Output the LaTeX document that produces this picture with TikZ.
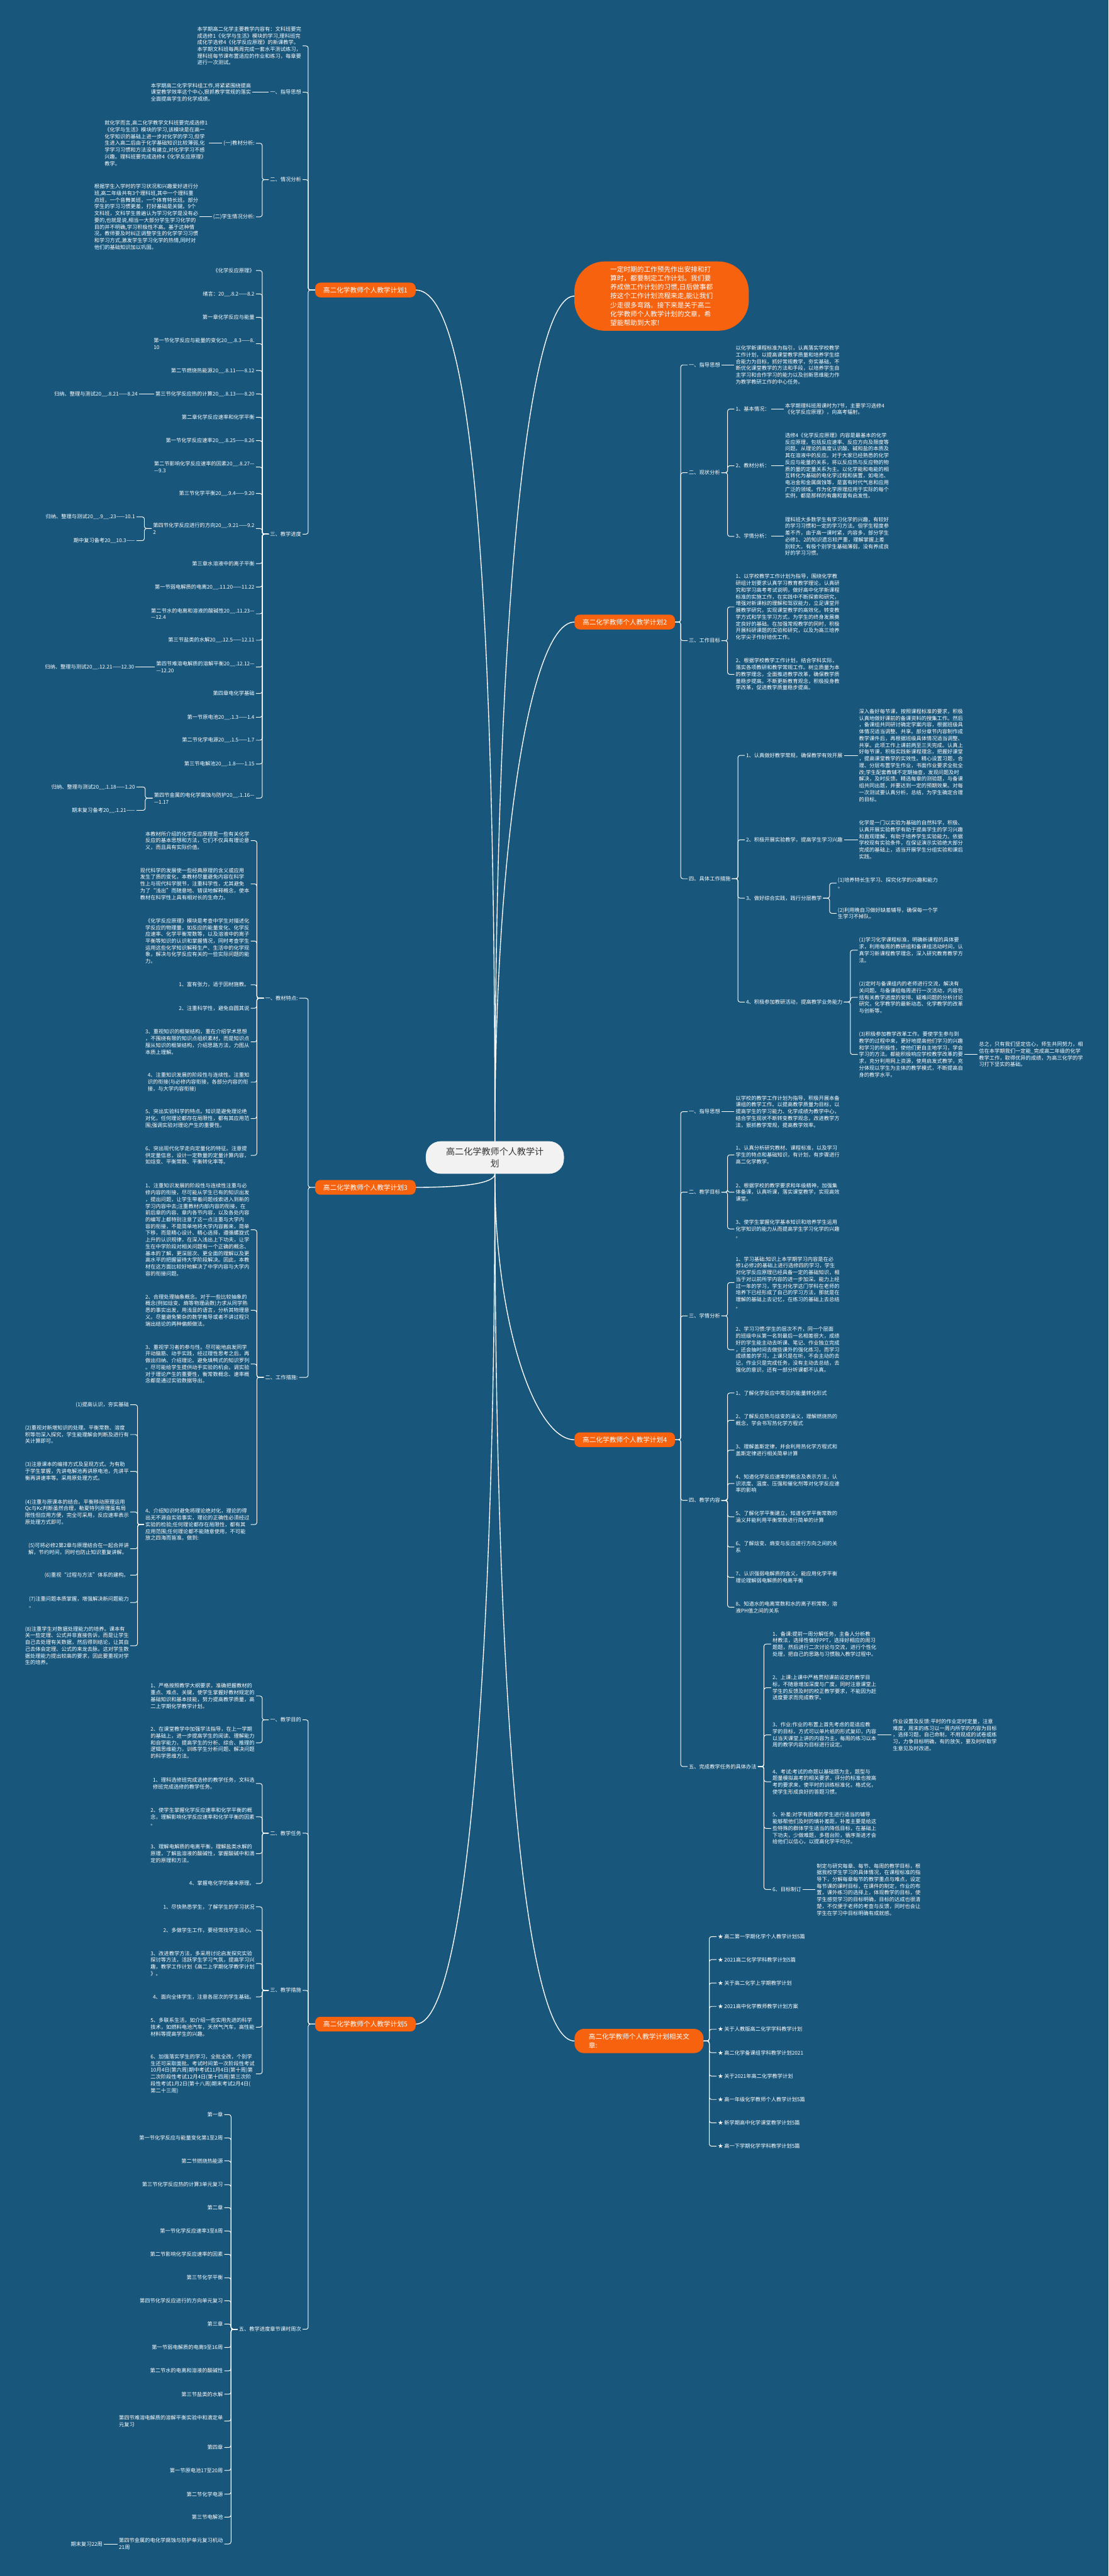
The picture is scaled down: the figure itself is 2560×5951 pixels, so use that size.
\documentclass[tikz,border=0pt]{standalone}
\usepackage{fontspec}
\setmainfont{Noto Sans CJK SC}
\definecolor{mapbg}{HTML}{18567B}
\definecolor{maporange}{HTML}{F7620F}
\definecolor{maproot}{HTML}{F2F2F2}
\definecolor{maptext}{HTML}{333333}

\begin{document}
\begin{tikzpicture}[
    x=1pt, y=-1pt,
    every node/.style={font=\fontsize{12}{15.6}\selectfont, text=white, inner xsep=3pt, inner ysep=1pt},
    leafl/.style={anchor=east, align=left},
    leafr/.style={anchor=west, align=left},
    branch/.style={
        fill=maporange,
        rounded corners=12pt,
        minimum width=232pt,
        minimum height=34pt,
        align=left,
        font=\fontsize{15.5}{20}\selectfont
    },
    rootnode/.style={
        fill=maproot,
        text=maptext,
        rounded corners=34pt,
        minimum width=319pt,
        minimum height=75pt,
        align=center,
        font=\fontsize{20.5}{27}\selectfont
    },
    introbox/.style={
        fill=maporange,
        rounded corners=70pt,
        minimum width=403pt,
        minimum height=160pt,
        align=left,
        font=\fontsize{15.5}{20.7}\selectfont
    },
    link/.style={draw=white, line width=1.4pt, rounded corners=5pt},
    bough/.style={draw=white, line width=2pt}
]

\useasboundingbox (0,0) rectangle (2560,5951);
\fill[mapbg] (0,0) rectangle (2560,5951);

%------------------------------------------------
% Root and main branches
%------------------------------------------------
\node[rootnode] (root) at (1143,2674) {高二化学教师个人教学计\\划};

\node[branch] (a) at (844,670)  {高二化学教师个人教学计划1};
\node[branch] (c) at (844,2743) {高二化学教师个人教学计划3};
\node[branch] (e) at (844,4676) {高二化学教师个人教学计划5};

\node[introbox] (intro) at (1528,684) {一定时期的工作预先作出安排和打\\算时，都要制定工作计划。我们要\\养成做工作计划的习惯,日后做事都\\按这个工作计划流程来走,能让我们\\少走很多弯路。接下来是关于高二\\化学教师个人教学计划的文章，希\\望能帮助到大家!};
\node[branch] (b) at (1443,1437) {高二化学教师个人教学计划2};
\node[branch] (d) at (1443,3326) {高二化学教师个人教学计划4};
\node[branch, minimum width=298pt, minimum height=56pt, rounded corners=22pt] (f) at (1476,4715) {高二化学教师个人教学计划相关文\\章:};

\draw[bough] (root.north) .. controls +(0,-1300) and +(130,0) .. (a.east);
\draw[bough] (root.north) .. controls +(0,-1300) and +(-100,0) .. (intro.west);
\draw[bough] (root.north) .. controls +(0,-700) and +(-100,0) .. (b.west);
\draw[bough] (root.south) .. controls +(0,25) and +(90,0) .. (c.east);
\draw[bough] (root.south) .. controls +(0,350) and +(-90,0) .. (d.west);
\draw[bough] (root.south) .. controls +(0,1100) and +(120,0) .. (e.east);
\draw[bough] (root.south) .. controls +(0,1300) and +(-110,0) .. (f.west);

%------------------------------------------------
% Plan 1
%------------------------------------------------
\node[leafl] (a0)  at (699,106) {本学期高二化学主要教学内容有：文科班要完\\成选修1《化学与生活》模块的学习,理科班完\\成化学选修4《化学反应原理》的新课教学。\\本学期文科班每两周完成一套水平测试练习，\\理科班每节课布置适应的作业和练习，每章要\\进行一次测试。};
\node[leafl] (a1)  at (699,213) {一、指导思想};
\node[leafl] (a1p) at (583,213) {本学期高二化学学科组工作,将紧紧围绕提高\\课堂教学效率这个中心,狠抓教学常规的落实\\全面提高学生的化学成绩。};
\node[leafl] (a2)  at (699,415) {二、情况分析};
\node[leafl] (a21) at (591,331) {(一)教材分析:};
\node[leafl] (a21p) at (483,331) {就化学而言,高二化学教学文科班要完成选修1\\《化学与生活》模块的学习,该模块是在高一\\化学知识的基础上进一步对化学的学习,但学\\生进入高二后由于化学基础知识比较薄弱,化\\学学习习惯和方法没有建立,对化学学习不感\\兴趣。理科班要完成选修4《化学反应原理》\\教学。};
\node[leafl] (a22) at (591,501) {(二)学生情况分析:};
\node[leafl] (a22p) at (461,501) {根据学生入学时的学习状况和兴趣爱好进行分\\班,高二年级共有3个理科班,其中一个理科重\\点班，一个音舞美班，一个体育特长班。部分\\学生的学习习惯更差，打好基础是关键。9个\\文科班，文科学生普遍认为学习化学是没有必\\要的,也就是说,相当一大部分学生学习化学的\\目的并不明确,学习积极性不高。基于这种情\\况，教师要及时纠正调整学生的化学学习习惯\\和学习方式,激发学生学习化学的热情,同时对\\他们的基础知识加以巩固。};
\node[leafl] (a3)  at (699,1234) {三、教学进度};

\node[leafl] (s1)  at (591,625)  {《化学反应原理》};
\node[leafl] (s2)  at (591,679)  {绪言：20\_\_.8.2——8.2};
\node[leafl] (s3)  at (591,733)  {第一章化学反应与能量};
\node[leafl] (s4)  at (591,794)  {第一节化学反应与能量的变化20\_\_.8.3——8.\\10};
\node[leafl] (s5)  at (591,856)  {第二节燃烧热能源20\_\_.8.11——8.12};
\node[leafl] (s6)  at (591,910)  {第三节化学反应热的计算20\_\_.8.13——8.20};
\node[leafl] (s6a) at (321,910)  {归纳、整理与测试20\_\_.8.21——8.24};
\node[leafl] (s7)  at (591,964)  {第二章化学反应速率和化学平衡};
\node[leafl] (s8)  at (591,1018) {第一节化学反应速率20\_\_.8.25——8.26};
\node[leafl] (s9)  at (591,1079) {第二节影响化学反应速率的因素20\_\_.8.27—\\—9.3};
\node[leafl] (s10) at (591,1140) {第三节化学平衡20\_\_.9.4——9.20};
\node[leafl] (s11) at (591,1221) {第四节化学反应进行的方向20\_\_.9.21——9.2\\2};
\node[leafl] (s11a) at (315,1194) {归纳、整理与测试20\_\_.9\_\_.23——10.1};
\node[leafl] (s11b) at (315,1249) {期中复习备考20\_\_10.3——};
\node[leafl] (s12) at (591,1302) {第三章水溶液中的离子平衡};
\node[leafl] (s13) at (591,1356) {第一节弱电解质的电离20\_\_.11.20——11.22};
\node[leafl] (s14) at (591,1418) {第二节水的电离和溶液的酸碱性20\_\_.11.23—\\—12.4};
\node[leafl] (s15) at (591,1479) {第三节盐类的水解20\_\_.12.5——12.11};
\node[leafl] (s16) at (591,1541) {第四节难溶电解质的溶解平衡20\_\_.12.12—\\—12.20};
\node[leafl] (s16a) at (313,1541) {归纳、整理与测试20\_\_.12.21——12.30};
\node[leafl] (s17) at (591,1602) {第四章电化学基础};
\node[leafl] (s18) at (591,1657) {第一节原电池20\_\_.1.3——1.4};
\node[leafl] (s19) at (591,1710) {第二节化学电源20\_\_.1.5——1.7};
\node[leafl] (s20) at (591,1765) {第三节电解池20\_\_.1.8——1.15};
\node[leafl] (s21) at (591,1844) {第四节金属的电化学腐蚀与防护20\_\_.1.16—\\—1.17};
\node[leafl] (s21a) at (315,1818) {归纳、整理与测试20\_\_.1.18——1.20};
\node[leafl] (s21b) at (315,1872) {期末复习备考20\_\_.1.21——};

\foreach \k in {a0,a1,a2,a3} \draw[link] (a.west) -- ++(-16,0) |- (\k.east);
\draw[link] (a1.west) -- (a1p.east);
\foreach \k in {a21,a22} \draw[link] (a2.west) -- ++(-15,0) |- (\k.east);
\draw[link] (a21.west) -- (a21p.east);
\draw[link] (a22.west) -- (a22p.east);
\foreach \i in {1,...,21} \draw[link] (a3.west) -- ++(-15,0) |- (s\i.east);
\draw[link] (s6.west) -- (s6a.east);
\foreach \k in {s11a,s11b} \draw[link] (s11.west) -- ++(-17,0) |- (\k.east);
\draw[link] (s16.west) -- (s16a.east);
\foreach \k in {s21a,s21b} \draw[link] (s21.west) -- ++(-17,0) |- (\k.east);

%------------------------------------------------
% Plan 3
%------------------------------------------------
\node[leafl] (c1)  at (691,2306) {一、教材特点:};
\node[leafl] (c11) at (579,1942) {本教材所介绍的化学反应原理是一些有关化学\\反应的基本思想和方法，它们不仅具有理论意\\义，而且具有实际价值。};
\node[leafl] (c12) at (579,2042) {现代科学的发展使一些经典原理的含义或应用\\发生了质的变化，本教材尽量避免内容在科学\\性上与现代科学脱节，注重科学性，尤其避免\\为了“浅出”而随意地、错误地解释概念，使本\\教材在科学性上具有相对长的生命力。};
\node[leafl] (c13) at (579,2174) {《化学反应原理》模块是考查中学生对描述化\\学反应的物理量，如反应的能量变化、化学反\\应速率、化学平衡常数等，以及溶液中的离子\\平衡等知识的认识和掌握情况，同时考查学生\\运用这些化学知识解释生产、生活中的化学现\\象，解决与化学反应有关的一些实际问题的能\\力。};
\node[leafl] (c14) at (579,2275) {1、富有张力，适于因材施教。};
\node[leafl] (c15) at (579,2329) {2、注重科学性，避免自圆其说};
\node[leafl] (c16) at (579,2407) {3、重视知识的框架结构，重在介绍学术思想\\，不围绕有限的知识点组织素材，而是知识点\\服从知识的框架结构，介绍思路方法，力图从\\本质上理解。};
\node[leafl] (c17) at (579,2500) {4、注重知识发展的阶段性与连续性。注重知\\识的衔接(与必修内容衔接，各部分内容的衔\\接，与大学内容衔接)};
\node[leafl] (c18) at (579,2584) {5、突出实验科学的特点。知识是避免理论绝\\对化，任何理论都存在局限性，都有其应用范\\围;强调实验对理论产生的重要性。};
\node[leafl] (c19) at (579,2669) {6、突出现代化学走向定量化的特征。注意提\\供定量信息，设计一定数量的定量计算内容，\\如焓变、平衡常数、平衡转化率等。};

\node[leafl] (c2)  at (691,3182) {二、工作措施:};
\node[leafl] (c21) at (579,2841) {1、注重知识发展的阶段性与连续性注重与必\\修内容的衔接，尽可能从学生已有的知识出发\\，提出问题，让学生带着问题线索进入到新的\\学习内容中去;注重教材内部内容的衔接，在\\前后章的内容、章内各节内容，以及各处内容\\的编写上都特别注意了这一点注重与大学内\\容的衔接，不是简单地将大学内容搬来，简单\\下移，而是精心设计、精心选择，遵循螺旋式\\上升的认识规律，在深入浅出上下功夫，让学\\生在中学阶段对相关问题有一个正确的概念、\\基本的了解，更深层次、更全面的理解以及更\\高水平的把握留待大学阶段解决。因此，本教\\材在这方面比较好地解决了中学内容与大学内\\容的衔接问题。};
\node[leafl] (c22) at (579,3027) {2、合理处理抽象概念。对于一些比较抽象的\\概念(例如焓变、熵等物理函数)力求从同学熟\\悉的事实出发，用浅显的语言，分析其物理意\\义。尽量避免繁杂的数学推导或者不讲过程只\\端出结论的两种偏颇做法。};
\node[leafl] (c23) at (579,3151) {3、重视学习者的参与性。尽可能地启发同学\\开动脑筋、动手实践，经过理性思考之后，再\\做出归纳、介绍理论。避免填鸭式的知识罗列\\。尽可能给学生提供动手实验的机会。调实验\\对于理论产生的重要性，衡常数概念、速率概\\念都是通过实验数据导出。};
\node[leafl] (c24) at (579,3522) {4、介绍知识时避免将理论绝对化，理论的得\\出无不源自实验事实，理论的正确性必须经过\\实验的检验;任何理论都存在局限性，都有其\\应用范围;任何理论都不能随意使用，不可能\\放之四海而皆准。做到:};

\node[leafl] (c241) at (301,3245) {(1)提高认识，夯实基础};
\node[leafl] (c242) at (301,3314) {(2)重视对新增知识的处理。平衡常数、溶度\\积等勿深入探究，学生能理解会判断及进行有\\关计算即可。};
\node[leafl] (c243) at (301,3399) {(3)注意课本的编排方式及呈现方式。为有助\\于学生掌握，先讲电解池再讲原电池，先讲平\\衡再讲速率等。采用原处理方式。};
\node[leafl] (c244) at (301,3493) {(4)注重与原课本的结合。平衡移动原理运用\\Qc与Kc判断虽然合理，勒夏特列原理虽有局\\限性但应用方便，完全可采用，反应速率表示\\原处理方式即可。};
\node[leafl] (c245) at (301,3578) {(5)可将必修2第2章与原理结合在一起合并讲\\解，节约时间，同时也防止知识重复讲解。};
\node[leafl] (c246) at (301,3639) {(6)重视“过程与方法”体系的建构。};
\node[leafl] (c247) at (301,3702) {(7)注重问题本质掌握，增强解决新问题能力\\。};
\node[leafl] (c248) at (301,3802) {(8)注重学生对数据处理能力的培养。课本有\\关一些定理、公式并非直接告诉，而是让学生\\自己去处理有关数据，然后得到结论，让其自\\己去体会定理、公式的来龙去脉。这对学生数\\据处理能力提出较高的要求，因此要重视对学\\生的培养。};

\foreach \k in {c1,c2} \draw[link] (c.west) -- ++(-16,0) |- (\k.east);
\foreach \i in {1,...,9} \draw[link] (c1.west) -- ++(-16,0) |- (c1\i.east);
\foreach \i in {1,...,4} \draw[link] (c2.west) -- ++(-16,0) |- (c2\i.east);
\foreach \i in {1,...,8} \draw[link] (c24.west) -- ++(-15,0) |- (c24\i.east);

%------------------------------------------------
% Plan 5
%------------------------------------------------
\node[leafl] (e1)  at (699,3973) {一、教学目的};
\node[leafl] (e11) at (591,3918) {1、严格按照教学大纲要求，准确把握教材的\\重点、难点、关键，使学生掌握好教材规定的\\基础知识和基本技能，努力提高教学质量，高\\二上学期化学教学计划。};
\node[leafl] (e12) at (591,4026) {2、在课堂教学中加强学法指导，在上一学期\\的基础上，进一步提高学生的阅读、理解能力\\和自学能力，提高学生的分析、综合、推理的\\逻辑思维能力，训练学生分析问题、解决问题\\的科学思维方法。};
\node[leafl] (e2)  at (699,4235) {二、教学任务};
\node[leafl] (e21) at (591,4120) {1、理科选修班完成选修的教学任务，文科选\\修班完成选修的教学任务。};
\node[leafl] (e22) at (591,4197) {2、使学生掌握化学反应速率和化学平衡的概\\念，理解影响化学反应速率和化学平衡的因素\\。};
\node[leafl] (e23) at (591,4282) {3、理解电解质的电离平衡，理解盐类水解的\\原理，了解盐溶液的酸碱性，掌握酸碱中和滴\\定的原理和方法。};
\node[leafl] (e24) at (591,4351) {4、掌握电化学的基本原理。};
\node[leafl] (e3)  at (699,4598) {三、教学措施};
\node[leafl] (e31) at (591,4405) {1、尽快熟悉学生，了解学生的学习状况};
\node[leafl] (e32) at (591,4459) {2、多做学生工作，要经常找学生谈心。};
\node[leafl] (e33) at (591,4536) {3、改进教学方法，多采用讨论启发探究实验\\探讨等方法，活跃学生学习气氛，提高学习兴\\趣，教学工作计划《高二上学期化学教学计划\\》。};
\node[leafl] (e34) at (591,4613) {4、面向全体学生，注意各层次的学生基础。};
\node[leafl] (e35) at (591,4683) {5、多联系生活，如介绍一些实用先进的科学\\技术，如燃料电池汽车，天然气汽车，高性能\\材料等提高学生的兴趣。};
\node[leafl] (e36) at (591,4791) {6、加强落实学生的学习，全批全改，个别学\\生还可采取面批。考试时间第一次阶段性考试\\10月4日(第六周)期中考试11月4日(第十周)第\\二次阶段性考试12月4日(第十四周)第三次阶\\段性考试1月2日(第十八周)期末考试2月4日(\\第二十三周)};
\node[leafl] (e5)  at (699,5381) {五、教学进度章节课时周次};

\node[leafl] (w1)  at (518,4885) {第一章};
\node[leafl] (w2)  at (518,4939) {第一节化学反应与能量变化第1至2周};
\node[leafl] (w3)  at (518,4992) {第二节燃烧热能源};
\node[leafl] (w4)  at (518,5047) {第三节化学反应热的计算3单元复习};
\node[leafl] (w5)  at (518,5100) {第二章};
\node[leafl] (w6)  at (518,5154) {第一节化学反应速率3至8周};
\node[leafl] (w7)  at (518,5208) {第二节影响化学反应速率的因素};
\node[leafl] (w8)  at (518,5262) {第三节化学平衡};
\node[leafl] (w9)  at (518,5315) {第四节化学反应进行的方向单元复习};
\node[leafl] (w10) at (518,5369) {第三章};
\node[leafl] (w11) at (518,5423) {第一节弱电解质的电离9至16周};
\node[leafl] (w12) at (518,5477) {第二节水的电离和溶液的酸碱性};
\node[leafl] (w13) at (518,5531) {第三节盐类的水解};
\node[leafl] (w14) at (518,5593) {第四节难溶电解质的溶解平衡实验中和滴定单\\元复习};
\node[leafl] (w15) at (518,5654) {第四章};
\node[leafl] (w16) at (518,5707) {第一节原电池17至20周};
\node[leafl] (w17) at (518,5762) {第二节化学电源};
\node[leafl] (w18) at (518,5815) {第三节电解池};
\node[leafl] (w19) at (518,5877) {第四节金属的电化学腐蚀与防护单元复习机动\\21周};
\node[leafl] (w19a) at (240,5877) {期末复习22周};

\foreach \k in {e1,e2,e3,e5} \draw[link] (e.west) -- ++(-16,0) |- (\k.east);
\foreach \i in {1,2} \draw[link] (e1.west) -- ++(-15,0) |- (e1\i.east);
\foreach \i in {1,...,4} \draw[link] (e2.west) -- ++(-15,0) |- (e2\i.east);
\foreach \i in {1,...,6} \draw[link] (e3.west) -- ++(-15,0) |- (e3\i.east);
\foreach \i in {1,...,19} \draw[link] (e5.west) -- ++(-15,0) |- (w\i.east);
\draw[link] (w19.west) -- (w19a.east);

%------------------------------------------------
% Plan 2
%------------------------------------------------
\node[leafr] (b1)  at (1588,843) {一、指导思想};
\node[leafr] (b1p) at (1696,843) {以化学新课程标准为指引，认真落实学校教学\\工作计划，以提高课堂教学质量和培养学生综\\合能力为目标，抓好常规教学，夯实基础，不\\断优化课堂教学的方法和手段，以培养学生自\\主学习和合作学习的能力以及创新思维能力作\\为教学教研工作的中心任务。};
\node[leafr] (b2)  at (1588,1092) {二、现状分析};
\node[leafr] (b21) at (1696,945) {1、基本情况：};
\node[leafr] (b21p) at (1810,945) {本学期理科班周课时为7节，主要学习选修4\\《化学反应原理》，向高考辐射。};
\node[leafr] (b22) at (1696,1076) {2、教材分析：};
\node[leafr] (b22p) at (1810,1076) {选修4《化学反应原理》内容是最基本的化学\\反应原理，包括反应速率、反应方向及限度等\\问题。从理论的高度认识酸、碱和盐的本质及\\其在溶液中的反应。对于大家已经熟悉的化学\\反应与能量的关系，将以反应热与反应物的物\\质的量的定量关系为主。以化学能和电能的相\\互转化为基础的电化学过程和装置，如电池、\\电冶金和金属腐蚀等，是富有时代气息和应用\\广泛的领域。作为化学原理应用于实际的每个\\实例，都是那样的有趣和富有启发性。};
\node[leafr] (b23) at (1696,1239) {3、学情分析：};
\node[leafr] (b23p) at (1810,1239) {理科班大多数学生有学习化学的兴趣，有较好\\的学习习惯和一定的学习方法。但学生程度参\\差不齐，由于高一课时紧，内容多，部分学生\\必修1、2的知识遗忘较严重，理解掌握上差\\别较大。有极个别学生基础薄弱，没有养成良\\好的学习习惯。};
\node[leafr] (b3)  at (1588,1480) {三、工作目标};
\node[leafr] (b31) at (1696,1402) {1、以学校教学工作计划为指导，围绕化学教\\研组计划要求认真学习教育教学理论，认真研\\究和学习高考考试说明，做好高中化学新课程\\标准的实施工作，在实践中不断探索和研究，\\增强对新课标的理解和驾驭能力，立足课堂开\\展教学研究，实现课堂教学的高效化，转变教\\学方式和学生学习方式，为学生的终身发展奠\\定良好的基础。在加强常规教学的同时，积极\\开展科研课题的实验和研究，以及为高三培养\\化学尖子作好培优工作。};
\node[leafr] (b32) at (1696,1558) {2、根据学校教学工作计划，结合学科实际，\\落实各项教研和教学常规工作。树立质量为本\\的教学理念，全面推进教学改革，确保教学质\\量稳步提高。不断更新教育观念，积极投身教\\学改革，促进教学质量稳步提高。};
\node[leafr] (b4)  at (1588,2030) {四、具体工作措施};
\node[leafr] (b41) at (1720,1745) {1、认真做好教学常规，确保教学有效开展};
\node[leafr] (b41p) at (1981,1745) {深入备好每节课，按照课程标准的要求，积极\\认真地做好课前的备课资料的搜集工作。然后\\，备课组共同研讨确定学案内容，根据班级具\\体情况适当调整、共享。部分章节内容制作成\\教学课件后，再根据班级具体情况适当调整、\\共享。此项工作上课前两至三天完成。认真上\\好每节课，积极实践新课程理念，把握好课堂\\，提高课堂教学的实效性。精心设置习题，合\\理、分层布置学生作业，书面作业要求全批全\\改;学生配套教辅不定期抽查，发现问题及时\\解决，及时反馈。精选每章的测验题，与备课\\组共同出题，并要达到一定的预期效果。对每\\一次测试要认真分析，总结，为学生确定合理\\的目标。};
\node[leafr] (b42) at (1720,1940) {2、积极开展实验教学，提高学生学习兴趣};
\node[leafr] (b42p) at (1981,1940) {化学是一门以实验为基础的自然科学，积极、\\认真开展实验教学有助于提高学生的学习兴趣\\和直观理解，有助于培养学生实验能力。依据\\学校现有实验条件，在保证演示实验绝大部分\\完成的基础上，适当开展学生分组实验和课后\\实践。};
\node[leafr] (b43) at (1720,2075) {3、做好综合实践，践行分层教学};
\node[leafr] (b431) at (1932,2040) {(1)培养特长生学习、探究化学的兴趣和能力\\。};
\node[leafr] (b432) at (1932,2110) {(2)利用晚自习做好缺差辅导，确保每一个学\\生学习不掉队。};
\node[leafr] (b44) at (1720,2315) {4、积极参加教研活动，提高教学业务能力};
\node[leafr] (b441) at (1981,2195) {(1)学习化学课程标准，明确新课程的具体要\\求，利用每周的教研组和备课组活动时间，认\\真学习新课程教学理念，深入研究教育教学方\\法。};
\node[leafr] (b442) at (1981,2304) {(2)定时与备课组内的老师进行交流，解决有\\关问题。与备课组每周进行一次活动，内容包\\括有关教学进度的安排、疑难问题的分析讨论\\研究，化学教学的最新动态、化学教学的改革\\与创新等。};
\node[leafr] (b443) at (1981,2436) {(3)积极参加教学改革工作。要使学生参与到\\教学的过程中来，更好地提高他们学习的兴趣\\和学习的积极性，使他们更自主地学习，学会\\学习的方法。都能积极响应学校教学改革的要\\求，充分利用网上资源，使用启发式教学，充\\分体现以学生为主体的教学模式，不断提高自\\身的教学水平。};
\node[leafr] (b443a) at (2258,2436) {总之，只有我们坚定信心，师生共同努力，相\\信在本学期我们一定能\_完成高二年级的化学\\教学工作，取得优异的成绩，为高三化学的学\\习打下坚实的基础。};

\foreach \k in {b1,b2,b3,b4} \draw[link] (b.east) -- ++(13,0) |- (\k.west);
\draw[link] (b1.east) -- (b1p.west);
\foreach \i in {1,2,3} \draw[link] (b2.east) -- ++(14,0) |- (b2\i.west);
\foreach \i in {1,2,3} \draw[link] (b2\i.east) -- (b2\i p.west);
\foreach \i in {1,2} \draw[link] (b3.east) -- ++(14,0) |- (b3\i.west);
\foreach \i in {1,...,4} \draw[link] (b4.east) -- ++(14,0) |- (b4\i.west);
\draw[link] (b41.east) -- (b41p.west);
\draw[link] (b42.east) -- (b42p.west);
\foreach \i in {1,2} \draw[link] (b43.east) -- ++(15,0) |- (b43\i.west);
\foreach \i in {1,2,3} \draw[link] (b44.east) -- ++(15,0) |- (b44\i.west);
\draw[link] (b443.east) -- (b443a.west);

%------------------------------------------------
% Plan 4
%------------------------------------------------
\node[leafr] (d1)  at (1588,2568) {一、指导思想};
\node[leafr] (d1p) at (1696,2568) {以学校的教学工作计划为指导，积极开展本备\\课组的教学工作。以提高教学质量为目标，以\\提高学生的学习能力、化学成绩为教学中心，\\结合学生现状不断转变教学观念，改进教学方\\法，狠抓教学常规，提高教学效率。};
\node[leafr] (d2)  at (1588,2754) {二、教学目标};
\node[leafr] (d21) at (1696,2668) {1、认真分析研究教材、课程标准，以及学习\\学生的特点和基础知识，有计划，有步骤进行\\高二化学教学。};
\node[leafr] (d22) at (1696,2754) {2、根据学校的教学要求和年级精神，加强集\\体备课，认真听课，落实课堂教学，实现高效\\课堂。};
\node[leafr] (d23) at (1696,2839) {3、使学生掌握化学基本知识和培养学生运用\\化学知识的能力从而提高学生学习化学的兴趣\\。};
\node[leafr] (d3)  at (1588,3040) {三、学情分析};
\node[leafr] (d31) at (1696,2963) {1、学习基础:知识上本学期学习内容是在必\\修1必修2的基础上进行选修四的学习，学生\\对化学反应原理已经具备一定的基础知识，相\\当于对以前所学内容的进一步加深。能力上经\\过一年的学习，学生对化学这门学科在老师的\\培养下已经形成了自己的学习方法，那就是在\\理解的基础上去记忆，在练习的基础上去总结\\。};
\node[leafr] (d32) at (1696,3118) {2、学习习惯:学生的层次不齐，同一个层面\\的班级中从第一名到最后一名相差很大，成绩\\好的学生能主动去听课、笔记、作业独立完成\\，还会抽时间去做些课外的强化练习，而学习\\成绩差的学习，上课只是在听，不会主动的去\\记，作业只是完成任务，没有主动去总结，去\\强化的意识，还有一部分听课都不认真。};
\node[leafr] (d4)  at (1588,3466) {四、教学内容};
\node[leafr] (d41) at (1696,3218) {1、了解化学反应中常见的能量转化形式};
\node[leafr] (d42) at (1696,3281) {2、了解反应热与焓变的涵义，理解燃烧热的\\概念，学会书写热化学方程式};
\node[leafr] (d43) at (1696,3350) {3、理解盖斯定律，并会利用热化学方程式和\\盖斯定律进行相关简单计算};
\node[leafr] (d44) at (1696,3427) {4、知道化学反应速率的概念及表示方法，认\\识浓度、温度、压强和催化剂等对化学反应速\\率的影响};
\node[leafr] (d45) at (1696,3504) {5、了解化学平衡建立，知道化学平衡常数的\\涵义并能利用平衡常数进行简单的计算};
\node[leafr] (d46) at (1696,3574) {6、了解焓变、熵变与反应进行方向之间的关\\系};
\node[leafr] (d47) at (1696,3644) {7、认识强弱电解质的含义，能应用化学平衡\\理论理解弱电解质的电离平衡};
\node[leafr] (d48) at (1696,3713) {8、知道水的电离常数和水的离子积常数，溶\\液PH值之间的关系};
\node[leafr] (d5)  at (1588,4081) {五、完成教学任务的具体办法};
\node[leafr] (d51) at (1781,3798) {1、备课:提前一周分解任务，主备人分析教\\材教法，选择性做好PPT，选择好相应的周习\\题题，然后进行二次讨论与交流，进行个性化\\处理，把自己的思路与习惯融入教学过程中。};
\node[leafr] (d52) at (1781,3899) {2、上课:上课中严格贯彻课前设定的教学目\\标，不随意增加深度与广度，同时注意课堂上\\学生的反馈及时的校正教学要求，不能因为赶\\进度要求而完成教学。};
\node[leafr] (d53) at (1781,4008) {3、作业:作业的布置上首先考虑的是适应教\\学的目标，方式可以单片纸的形式复印，内容\\以当天课堂上讲的内容为主，每周的练习以本\\周的教学内容为目标进行设定。};
\node[leafr] (d53a) at (2059,4008) {作业设置及反馈:平时的作业定时定量，注意\\难度，周末的练习以一周内所学的内容为目标\\，选择习题，自己命制，不用现成的试卷或练\\习，力争目标明确，有的放矢，要及时听取学\\生意见及时改进。};
\node[leafr] (d54) at (1781,4116) {4、考试:考试的命题以基础题为主，题型与\\题量模拟高考的相关要求，评分的标准也按高\\考的要求来，使平时的训练标准化，格式化，\\使学生形成良好的答题习惯。};
\node[leafr] (d55) at (1781,4224) {5、补差:对学有困难的学生进行适当的辅导\\能够帮他们及时的填补差距，补差主要是给这\\些特殊的群体学生适当的降低目标，在基础上\\下功夫，少做难题，多搭台阶，循序渐进才会\\给他们以信心，以提高化学平均分。};
\node[leafr] (d56) at (1781,4365) {6、目标制订};
\node[leafr] (d56a) at (1883,4365) {制定与研究每章、每节、每周的教学目标，根\\据我校学生学习的具体情况，在课程标准的指\\导下，分解每章每节的教学重点与难点，设定\\每节课的课时目标，在课件的制定，作业的布\\置，课外练习的选择上，体现教学的目标，使\\学生感觉学习的目标明确，目标的达成也很清\\楚，不仅便于老师的考查与反馈，同时也会让\\学生在学习中目标明确有成就感。};

\foreach \k in {d1,d2,d3,d4,d5} \draw[link] (d.east) -- ++(13,0) |- (\k.west);
\draw[link] (d1.east) -- (d1p.west);
\foreach \i in {1,2,3} \draw[link] (d2.east) -- ++(14,0) |- (d2\i.west);
\foreach \i in {1,2} \draw[link] (d3.east) -- ++(14,0) |- (d3\i.west);
\foreach \i in {1,...,8} \draw[link] (d4.east) -- ++(14,0) |- (d4\i.west);
\foreach \i in {1,...,6} \draw[link] (d5.east) -- ++(14,0) |- (d5\i.west);
\draw[link] (d53.east) -- (d53a.west);
\draw[link] (d56.east) -- (d56a.west);

%------------------------------------------------
% Related articles
%------------------------------------------------
\node[leafr] (f1)  at (1655,4474) {★ 高二第一学期化学个人教学计划5篇};
\node[leafr] (f2)  at (1655,4527) {★ 2021高二化学学科教学计划5篇};
\node[leafr] (f3)  at (1655,4581) {★ 关于高二化学上学期教学计划};
\node[leafr] (f4)  at (1655,4635) {★ 2021高中化学教师教学计划方案};
\node[leafr] (f5)  at (1655,4688) {★ 关于人教版高二化学学科教学计划};
\node[leafr] (f6)  at (1655,4742) {★ 高二化学备课组学科教学计划2021};
\node[leafr] (f7)  at (1655,4796) {★ 关于2021年高二化学教学计划};
\node[leafr] (f8)  at (1655,4850) {★ 高一年级化学教师个人教学计划5篇};
\node[leafr] (f9)  at (1655,4904) {★ 新学期高中化学课堂教学计划5篇};
\node[leafr] (f10) at (1655,4958) {★ 高一下学期化学学科教学计划5篇};

\foreach \i in {1,...,10} \draw[link] (f.east) -- ++(13,0) |- (f\i.west);

\end{tikzpicture}
\end{document}
